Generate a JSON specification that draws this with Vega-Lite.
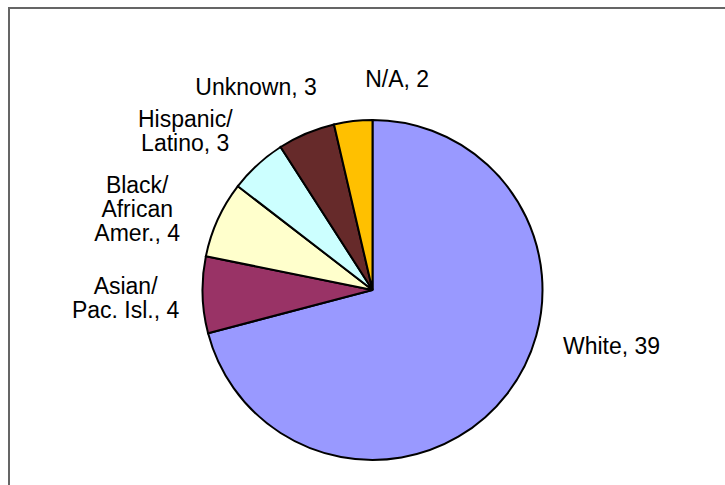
{
  "$schema": "https://vega.github.io/schema/vega-lite/v6.json",
  "width": 727,
  "height": 564,
  "autosize": "none",
  "padding": {"left": 9, "top": 8, "right": 0, "bottom": 0},
  "background": "white",
  "config": {
    "view": {"stroke": null},
    "text": {"lineBreak": "\n"}
  },
  "data": {
    "values": [
      {"idx": 1, "category": "White", "count": 39, "label": "White, 39"},
      {"idx": 2, "category": "Asian/Pac. Isl.", "count": 4, "label": "Asian/\nPac. Isl., 4"},
      {"idx": 3, "category": "Black/African Amer.", "count": 4, "label": "Black/\nAfrican\nAmer., 4"},
      {"idx": 4, "category": "Hispanic/Latino", "count": 3, "label": "Hispanic/\nLatino, 3"},
      {"idx": 5, "category": "Unknown", "count": 3, "label": "Unknown, 3"},
      {"idx": 6, "category": "N/A", "count": 2, "label": "N/A, 2"}
    ]
  },
  "layer": [
    {
      "mark": {"type": "rect", "fill": null, "filled": false, "stroke": "#666666", "strokeWidth": 1.5},
      "encoding": {}
    },
    {
      "mark": {"type": "arc", "outerRadius": 170, "stroke": "black", "strokeWidth": 2},
      "encoding": {
        "theta": {"field": "count", "type": "quantitative", "stack": true},
        "order": {"field": "idx", "type": "quantitative", "sort": "ascending"},
        "color": {
          "field": "category",
          "type": "nominal",
          "scale": {
            "domain": ["White", "Asian/Pac. Isl.", "Black/African Amer.", "Hispanic/Latino", "Unknown", "N/A"],
            "range": ["#9999FF", "#993366", "#FFFFCC", "#CCFFFF", "#662A2A", "#FFC000"]
          },
          "legend": null
        }
      }
    },
    {
      "mark": {"type": "text", "radius": 240, "dx": 49, "dy": -90, "font": "Liberation Sans", "fontSize": 23, "lineHeight": 24, "align": "center", "baseline": "middle", "color": "black"},
      "encoding": {
        "theta": {"field": "count", "type": "quantitative", "stack": true},
        "order": {"field": "idx", "type": "quantitative", "sort": "ascending"},
        "text": {"condition": {"test": "datum.category === 'White'", "field": "label"}, "value": ""}
      }
    },
    {
      "mark": {"type": "text", "radius": 240, "dx": -7, "dy": -10, "font": "Liberation Sans", "fontSize": 23, "lineHeight": 24, "align": "center", "baseline": "middle", "color": "black"},
      "encoding": {
        "theta": {"field": "count", "type": "quantitative", "stack": true},
        "order": {"field": "idx", "type": "quantitative", "sort": "ascending"},
        "text": {"condition": {"test": "datum.category === 'Asian/Pac. Isl.'", "field": "label"}, "value": ""}
      }
    },
    {
      "mark": {"type": "text", "radius": 240, "dx": -17, "dy": -4, "font": "Liberation Sans", "fontSize": 23, "lineHeight": 24, "align": "center", "baseline": "middle", "color": "black"},
      "encoding": {
        "theta": {"field": "count", "type": "quantitative", "stack": true},
        "order": {"field": "idx", "type": "quantitative", "sort": "ascending"},
        "text": {"condition": {"test": "datum.category === 'Black/African Amer.'", "field": "label"}, "value": ""}
      }
    },
    {
      "mark": {"type": "text", "radius": 240, "dx": -25, "dy": 7, "font": "Liberation Sans", "fontSize": 23, "lineHeight": 24, "align": "center", "baseline": "middle", "color": "black"},
      "encoding": {
        "theta": {"field": "count", "type": "quantitative", "stack": true},
        "order": {"field": "idx", "type": "quantitative", "sort": "ascending"},
        "text": {"condition": {"test": "datum.category === 'Hispanic/Latino'", "field": "label"}, "value": ""}
      }
    },
    {
      "mark": {"type": "text", "radius": 240, "dx": -23, "dy": 19, "font": "Liberation Sans", "fontSize": 23, "lineHeight": 24, "align": "center", "baseline": "middle", "color": "black"},
      "encoding": {
        "theta": {"field": "count", "type": "quantitative", "stack": true},
        "order": {"field": "idx", "type": "quantitative", "sort": "ascending"},
        "text": {"condition": {"test": "datum.category === 'Unknown'", "field": "label"}, "value": ""}
      }
    },
    {
      "mark": {"type": "text", "radius": 240, "dx": 52, "dy": 28, "font": "Liberation Sans", "fontSize": 23, "lineHeight": 24, "align": "center", "baseline": "middle", "color": "black"},
      "encoding": {
        "theta": {"field": "count", "type": "quantitative", "stack": true},
        "order": {"field": "idx", "type": "quantitative", "sort": "ascending"},
        "text": {"condition": {"test": "datum.category === 'N/A'", "field": "label"}, "value": ""}
      }
    }
  ]
}
